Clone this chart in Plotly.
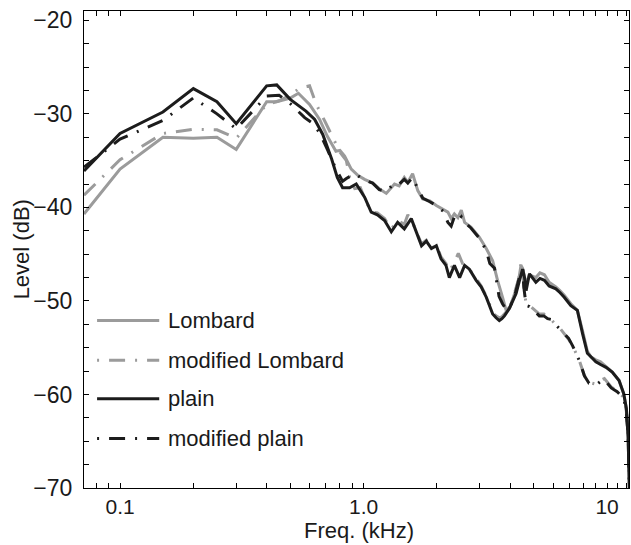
import plotly.graph_objects as go

# ---------------- data ----------------
names = ["Lombard", "modified Lombard", "plain", "modified plain"]

lombard_f = [0.0711, 0.1, 0.15, 0.2, 0.25, 0.3, 0.4, 0.44, 0.5, 0.54, 0.6, 0.66, 0.71, 0.77,
             0.80, 0.836, 0.89, 0.95, 1.01, 1.09, 1.16, 1.24, 1.34, 1.40, 1.47, 1.52, 1.59, 1.67,
             1.75, 1.87, 1.99, 2.12, 2.22, 2.29, 2.36, 2.44, 2.52, 2.60, 2.76, 2.99, 3.19, 3.39,
             3.55, 3.72, 3.85, 4.0, 4.2, 4.35, 4.43, 4.5, 4.58, 4.65, 4.8, 5.1, 5.3, 5.53, 5.78,
             6.16, 6.4, 6.67, 7.1, 7.55, 7.93, 8.3, 8.6, 8.99, 9.4, 9.9, 10.5, 11.2, 11.7, 12.0,
             12.2, 12.4]
lombard_db = [-40.7, -35.9, -32.5, -32.6, -32.5, -33.8, -28.7, -28.7, -28.3, -27.8, -29.0, -30.6,
              -32.4, -34.0, -33.9, -34.5, -35.9, -36.6, -37.0, -37.4, -38.0, -38.5, -37.5, -37.7,
              -36.8, -37.3, -36.4, -38.2, -39.1, -39.3, -39.8, -40.2, -40.5, -41.2, -40.7, -41.1,
              -40.3, -41.6, -42.1, -43.2, -44.4, -45.7, -47.8, -49.6, -51.0, -50.6, -49.0, -47.5,
              -46.2, -46.5, -47.3, -48.2, -47.2, -47.5, -47.0, -47.2, -48.0, -48.5, -48.9, -49.4,
              -50.3, -51.0, -53.2, -55.4, -56.0, -56.3, -56.5, -57.0, -57.6, -58.5, -59.9, -61.5,
              -64.5, -72.0]

mod_lombard_f = [0.0711, 0.1, 0.15, 0.2, 0.25, 0.3, 0.4, 0.45, 0.5, 0.55, 0.6, 0.64, 0.70, 0.75,
                 0.80, 0.85, 0.88, 0.92, 0.97, 1.01, 1.075, 1.14, 1.22, 1.30, 1.38, 1.47, 1.52,
                 1.57, 1.64, 1.73, 1.81, 1.90, 1.99, 2.08, 2.18, 2.25, 2.36, 2.45, 2.55, 2.65,
                 2.80, 2.90, 3.04, 3.19, 3.30, 3.39, 3.50, 3.61, 3.70, 3.79, 3.97, 4.10, 4.23,
                 4.35, 4.43, 4.5, 4.55, 4.65, 4.80, 4.95, 5.1, 5.27, 5.5, 5.7, 5.95, 6.17, 6.4,
                 6.67, 6.95, 7.22, 7.45, 7.7, 8.07, 8.43, 9.0, 9.4, 9.75, 10.4, 11.0, 11.7, 12.0,
                 12.2, 12.4]
mod_lombard_db = [-38.7, -34.9, -32.1, -31.65, -31.7, -32.6, -29.0, -28.6, -28.0, -27.2, -27.0,
                  -29.0, -31.0, -32.7, -34.1, -35.0, -37.0, -38.0, -37.9, -39.0, -40.5, -40.6,
                  -41.2, -42.3, -41.4, -41.8, -40.8, -41.3, -42.5, -43.9, -43.5, -44.4, -44.0,
                  -45.3, -46.0, -46.8, -45.9, -44.9, -46.0, -46.3, -47.0, -47.6, -48.4, -49.5,
                  -50.4, -51.2, -51.6, -51.8, -51.7, -51.4, -50.8, -49.8, -48.6, -47.5, -46.0,
                  -46.6, -48.5, -50.3, -50.5, -50.8, -51.0, -51.4, -51.4, -51.9, -52.1, -52.6,
                  -52.9, -53.5, -54.1, -54.8, -55.5, -56.4, -58.0, -58.7, -58.9, -58.5, -58.3,
                  -59.2, -59.6, -60.3, -61.8, -64.5, -72.0]

plain_f = [0.0711, 0.1, 0.15, 0.2, 0.25, 0.3, 0.4, 0.44, 0.5, 0.58, 0.63, 0.68, 0.74, 0.78, 0.82,
           0.876, 0.933, 1.01, 1.075, 1.14, 1.22, 1.30, 1.38, 1.47, 1.57, 1.64, 1.73, 1.81, 1.90,
           1.99, 2.08, 2.18, 2.25, 2.36, 2.48, 2.60, 2.72, 2.90, 3.04, 3.19, 3.30, 3.39, 3.50,
           3.61, 3.70, 3.79, 3.97, 4.10, 4.23, 4.35, 4.43, 4.50, 4.58, 4.65, 4.80, 5.10, 5.30,
           5.53, 5.78, 6.16, 6.40, 6.67, 7.10, 7.55, 7.93, 8.30, 8.60, 8.99, 9.40, 9.90, 10.5,
           11.2, 11.7, 12.0, 12.2, 12.4]
plain_db = [-36.1, -32.1, -29.8, -27.3, -28.7, -31.05, -27.0, -26.9, -28.45, -29.7, -30.6, -32.2,
            -34.85, -36.8, -37.9, -37.9, -37.5, -38.9, -40.5, -40.8, -41.4, -42.6, -41.6, -42.3,
            -41.2, -42.5, -44.1, -43.6, -44.4, -44.1, -45.5, -46.2, -47.5, -46.2, -47.5, -46.2,
            -46.6, -47.8, -48.5, -49.6, -50.5, -51.4, -51.8, -52.1, -51.9, -51.6, -50.8, -50.0,
            -49.2, -48.0, -47.2, -46.6, -47.5, -48.9, -47.1, -48.0, -47.6, -47.8, -48.4, -48.7,
            -49.1, -49.6, -50.5, -51.0, -53.5, -55.6, -56.0, -56.5, -56.8, -57.1, -57.6, -58.5,
            -59.9, -61.5, -64.5, -72.0]

mod_plain_f = [0.0711, 0.1, 0.15, 0.2, 0.25, 0.3, 0.4, 0.45, 0.5, 0.573, 0.61, 0.66, 0.71, 0.77,
               0.82, 0.85, 0.92, 1.01, 1.09, 1.16, 1.24, 1.34, 1.40, 1.47, 1.52, 1.59, 1.67, 1.75,
               1.87, 1.99, 2.12, 2.22, 2.29, 2.36, 2.44, 2.52, 2.60, 2.76, 2.99, 3.19, 3.30, 3.45,
               3.6, 3.72, 3.85, 4.0, 4.2, 4.35, 4.43, 4.5, 4.55, 4.65, 4.80, 4.95, 5.1, 5.27, 5.5,
               5.7, 5.95, 6.17, 6.4, 6.67, 6.95, 7.22, 7.45, 7.7, 8.07, 8.43, 9.0, 9.4, 9.75,
               10.4, 11.0, 11.7, 12.0, 12.2, 12.4]
mod_plain_db = [-35.7, -32.7, -30.7, -28.3, -30.0, -31.6, -28.1, -28.0, -28.9, -30.4, -30.9,
                -32.0, -33.8, -35.9, -37.2, -36.9, -36.4, -37.1, -37.4, -38.1, -38.3, -37.4,
                -37.5, -37.0, -37.4, -36.8, -38.0, -39.0, -39.4, -39.8, -40.4, -41.6, -42.0,
                -41.0, -41.4, -41.0, -41.6, -42.2, -43.3, -44.6, -46.0, -46.5, -49.5, -50.3,
                -50.9, -50.6, -49.2, -47.8, -46.8, -46.6, -48.5, -50.5, -50.6, -50.9, -51.2,
                -51.6, -51.6, -51.9, -52.0, -52.6, -53.0, -53.5, -54.0, -54.8, -55.6, -56.4,
                -58.0, -58.8, -59.0, -58.6, -58.4, -59.3, -59.7, -60.4, -61.8, -64.5, -72.0]

x_tick_vals = [0.08, 0.09, 0.1, 0.2, 0.3, 0.4, 0.5, 0.6, 0.7, 0.8, 0.9, 1, 2, 3, 4, 5, 6, 7, 8,
               9, 10, 11, 12]
x_tick_text = ["", "", "0.1", "", "", "", "", "", "", "", "", "1.0", "", "", "", "", "", "", "",
               "", "10", "", ""]
y_tick_vals = [-70, -67.5, -65, -62.5, -60, -57.5, -55, -52.5, -50, -47.5, -45, -42.5, -40,
               -37.5, -35, -32.5, -30, -27.5, -25, -22.5, -20]
y_tick_text = ["−70", "", "", "", "−60", "", "", "", "−50", "", "", "", "−40", "", "", "",
               "−30", "", "", "", "−20"]
x_title = "Freq. (kHz)"
y_title = "Level (dB)"

# ---------------- styles ----------------
GRAY = "#9b9b9b"
BLACK = "#1c1c1c"
DASHDOT = "16px,10px,2px,10px"
FONT = "Liberation Sans, Arial, Helvetica, sans-serif"
TXT = "#1a1a1a"

series = [
    (lombard_f, lombard_db, GRAY, "solid"),
    (mod_lombard_f, mod_lombard_db, GRAY, DASHDOT),
    (plain_f, plain_db, BLACK, "solid"),
    (mod_plain_f, mod_plain_db, BLACK, DASHDOT),
]

fig = go.Figure()
for name, (fx, fy, col, dash) in zip(names, series):
    fig.add_trace(go.Scatter(x=fx, y=fy, mode="lines", name=name,
                             line=dict(color=col, width=3, dash=dash),
                             showlegend=False))

# manual legend (long line samples like the reference)
leg_rows = [0.351, 0.268, 0.187, 0.104]
for name, (fx, fy, col, dash), yy in zip(names, series, leg_rows):
    ldash = "2px,10px,16px,10px" if dash != "solid" else "solid"
    fig.add_shape(type="line", xref="paper", yref="paper", x0=0.024, x1=0.138, y0=yy, y1=yy,
                  line=dict(color=col, width=3, dash=ldash))
    fig.add_annotation(xref="paper", yref="paper", x=0.151, y=yy, text=name, showarrow=False,
                       xanchor="left", yanchor="middle",
                       font=dict(size=22, color=TXT, family=FONT))

# axis titles
fig.add_annotation(xref="paper", yref="paper", x=0.504, y=-0.0885, text=x_title,
                   showarrow=False, xanchor="center", yanchor="middle",
                   font=dict(size=22, color=TXT, family=FONT))
fig.add_annotation(xref="paper", yref="paper", x=-0.114, y=0.5, text=y_title, textangle=-90,
                   showarrow=False, xanchor="center", yanchor="middle",
                   font=dict(size=22, color=TXT, family=FONT))

fig.update_layout(
    width=631, height=545,
    margin=dict(l=84, r=2, t=11, b=57),
    paper_bgcolor="white", plot_bgcolor="white",
    font=dict(family=FONT, size=22, color=TXT),
    showlegend=False,
)
fig.update_xaxes(type="log", range=[-1.148, 1.09], tickvals=x_tick_vals, ticktext=x_tick_text,
                 ticks="inside", ticklen=5, tickcolor="black", showline=True, linecolor="black",
                 linewidth=1.2, mirror="ticks", showgrid=False, zeroline=False,
                 tickfont=dict(size=21), ticklabelstandoff=0)
fig.update_yaxes(range=[-70, -19.0], tickvals=y_tick_vals, ticktext=y_tick_text,
                 ticks="inside", ticklen=5, tickcolor="black", showline=True, linecolor="black",
                 linewidth=1.2, mirror="ticks", showgrid=False, zeroline=False,
                 tickfont=dict(size=23), ticklabelstandoff=6)

fig.write_html("out.html")
